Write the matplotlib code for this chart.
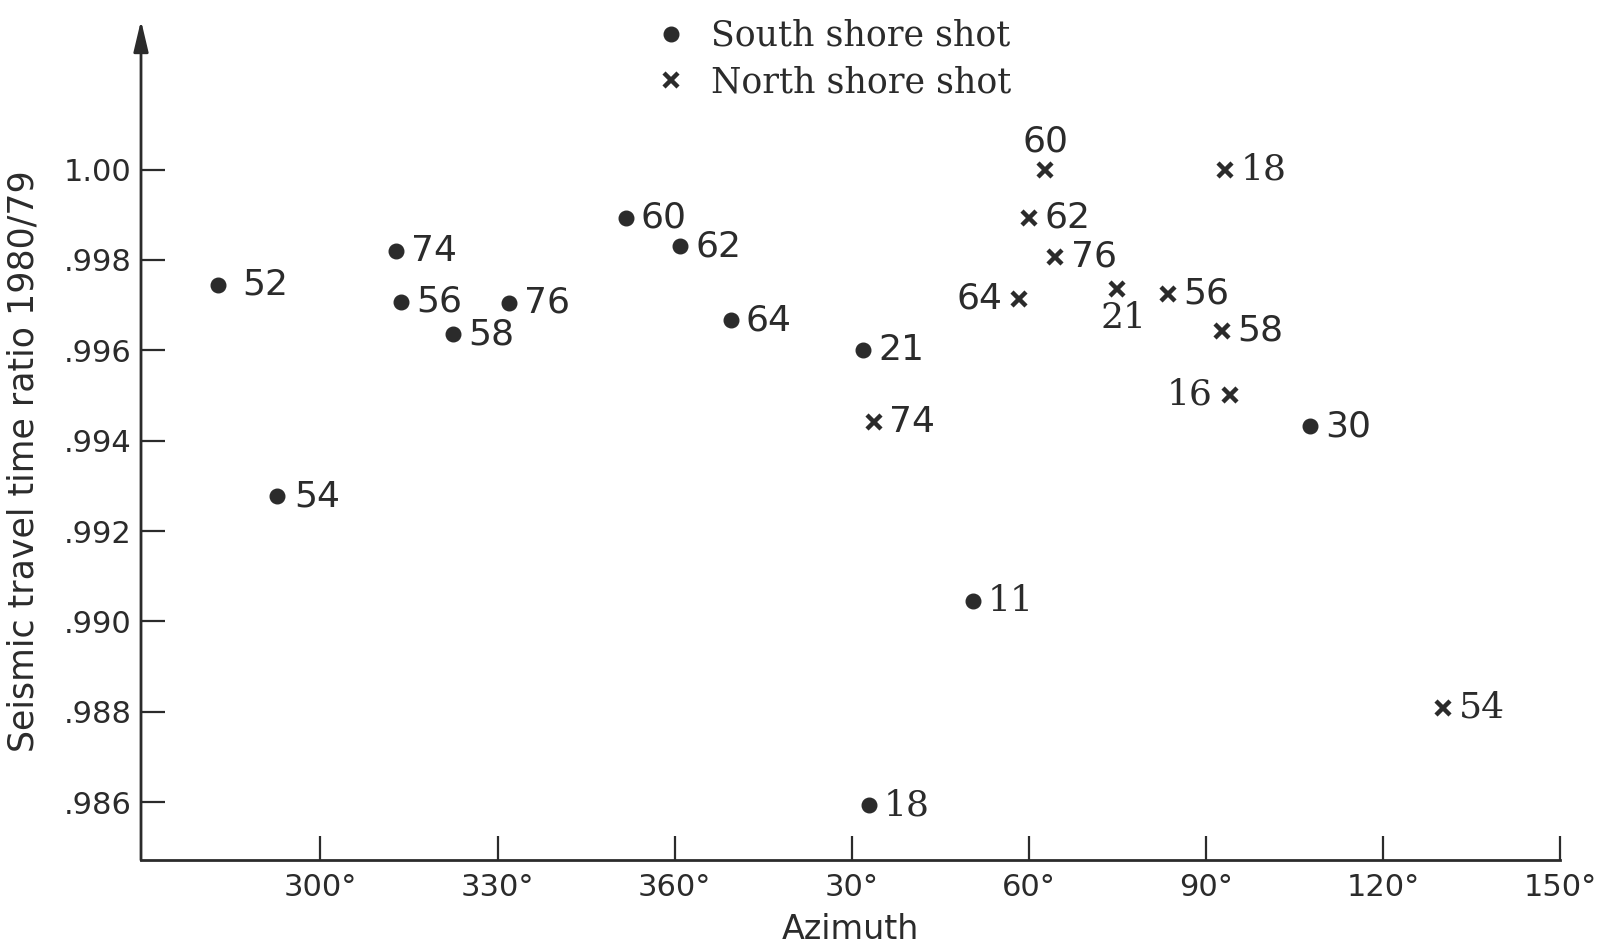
import numpy as np
import matplotlib
matplotlib.use('Agg')
import matplotlib.pyplot as plt

# ========= data ==========================================
# south shore shot (dots)
south_labels = ['52', '54', '74', '56', '58', '76', '60', '62', '64', '21', '11', '18', '30']
south_azimuth = [282.7, 292.7, 312.8, 313.7, 322.4, 331.9, 351.7, 0.9, 9.5, 31.9, 50.5, 32.9, 107.7]
south_ratio = [0.99745, 0.99277, 0.99820, 0.99707, 0.99636, 0.99705, 0.99893, 0.99830,
               0.99666, 0.99600, 0.99045, 0.98593, 0.99432]

# north shore shot (crosses)
north_labels = ['60', '18', '62', '76', '64', '21', '56', '58', '16', '74', '54']
north_azimuth = [62.8, 93.3, 60.0, 64.5, 58.4, 74.9, 83.6, 92.8, 94.0, 33.8, 130.2]
north_ratio = [1.0000, 1.0000, 0.99893, 0.99807, 0.99714, 0.99736, 0.99725, 0.99643,
               0.99502, 0.99441, 0.98809]

x_ticks = [300, 330, 360, 390, 420, 450, 480, 510]
x_ticklabels = ['300°', '330°', '360°', '30°', '60°', '90°', '120°', '150°']
y_ticks = [0.986, 0.988, 0.990, 0.992, 0.994, 0.996, 0.998, 1.000]
y_ticklabels = ['.986', '.988', '.990', '.992', '.994', '.996', '.998', '1.00']

# =========================================================
INK = '#2b2b2b'
FS = 26

# where the number sits relative to its mark (default: right)
north_place = {'60': 'top', '64': 'left', '16': 'left', '21': 'bottom'}
south_gap = {'52': 17, '54': 12}
serif_south = {'11', '18'}
serif_north = {'18', '21', '16', '54'}


def unwrap(az):
    # azimuths past north are drawn after 360
    return [a if a >= 200 else a + 360 for a in az]


def label(ax, x, y, txt, place='right', serif=False, gap=11):
    fam = 'DejaVu Serif' if serif else 'DejaVu Sans'
    if place == 'right':
        off, ha = (gap, 0), 'left'
    elif place == 'left':
        off, ha = (-12, 0), 'right'
    elif place == 'top':
        off, ha = (0, 20), 'center'
    else:
        off, ha = (5, -21), 'center'
    ax.annotate(txt, (x, y), xytext=off, textcoords='offset points',
                ha=ha, va='center', fontsize=FS, color=INK, family=fam)


def main():
    fig = plt.figure(figsize=(16.06, 9.52), dpi=100)
    ax = fig.add_axes([0.0878, 0.0966, 0.8836, 0.882])

    xs = unwrap(south_azimuth)
    xn = unwrap(north_azimuth)

    h1, = ax.plot(xs, south_ratio, 'o', color=INK, markersize=10.5, linestyle='none',
                  label='South shore shot', clip_on=False)
    h2, = ax.plot(xn, north_ratio, 'x', color=INK, markersize=10, markeredgewidth=3.2,
                  linestyle='none', label='North shore shot', clip_on=False)

    for x, y, t in zip(xs, south_ratio, south_labels):
        label(ax, x, y, t, 'right', t in serif_south, south_gap.get(t, 11))
    for x, y, t in zip(xn, north_ratio, north_labels):
        label(ax, x, y, t, north_place.get(t, 'right'), t in serif_north)

    ax.set_xlim(269.6, 510)
    ax.set_ylim(0.98472, 1.0033)

    ax.set_xticks(x_ticks)
    ax.set_xticklabels(x_ticklabels)
    ax.set_yticks(y_ticks)
    ax.set_yticklabels(y_ticklabels)
    ax.tick_params(axis='both', direction='in', length=17, width=1.6, color=INK,
                   labelsize=22, labelcolor=INK)
    ax.tick_params(axis='x', pad=9)
    ax.tick_params(axis='y', pad=7)

    for s in ['top', 'right', 'left']:
        ax.spines[s].set_visible(False)
    ax.spines['bottom'].set_color(INK)
    ax.spines['bottom'].set_linewidth(2)

    # left axis drawn as an arrow
    ax.annotate('', xy=(0, 1.0), xytext=(0, 0), xycoords='axes fraction',
                arrowprops=dict(arrowstyle='-|>,head_length=1.9,head_width=0.45',
                                color=INK, lw=2, shrinkA=0, shrinkB=0))

    ax.set_xlabel('Azimuth', fontsize=24, color=INK, labelpad=8)
    ax.set_ylabel('Seismic travel time ratio 1980/79', fontsize=25, color=INK)
    ax.yaxis.set_label_coords(-0.071, 0.475)

    ax.legend(handles=[h1, h2], loc='upper left', bbox_to_anchor=(0.39, 1.013),
              bbox_transform=fig.transFigure, frameon=False,
              prop={'family': 'DejaVu Serif', 'size': 25}, handlelength=0.8,
              handletextpad=0.75, labelspacing=0.35, labelcolor=INK)

    fig.savefig('out.png', dpi=100, facecolor='white')


if __name__ == "__main__":
    main()
